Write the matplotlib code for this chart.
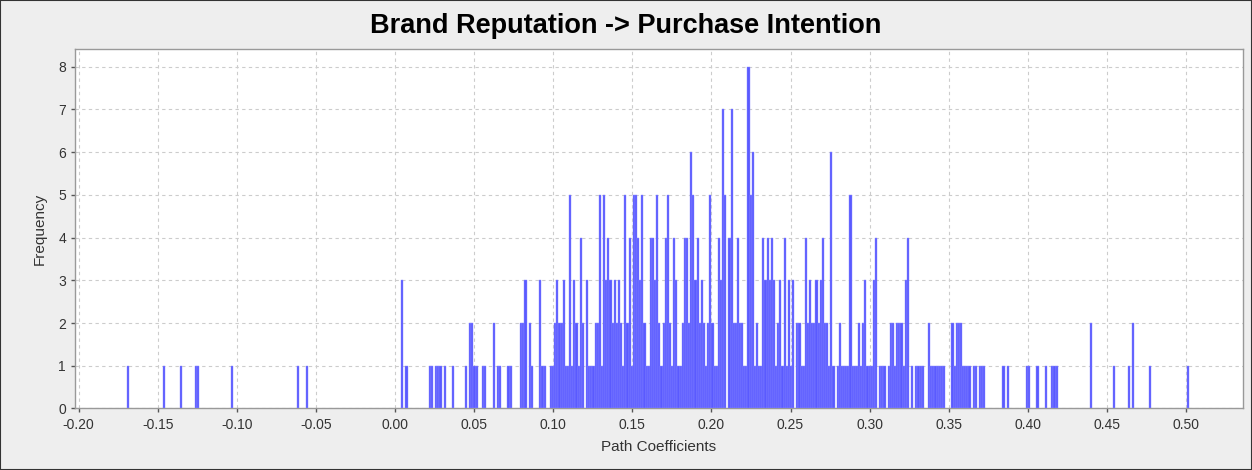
import numpy as np
import matplotlib
matplotlib.use("Agg")
import matplotlib.pyplot as plt
from matplotlib.ticker import FormatStrFormatter, MultipleLocator

# histogram: 500 bins between the smallest and largest bootstrap coefficient
x_min = -0.1693
x_max = 0.5021
n_bins = 500

# sparse tails (bin index, frequency)
left_bins = [0, 17, 25, 32, 33, 49, 80, 84, 129, 131, 142, 143, 145, 146, 147, 149, 153, 159]
left_freq = [1, 1, 1, 1, 1, 1, 1, 1, 3, 1, 1, 1, 1, 1, 1, 1, 1, 1]

right_bins = [412, 414, 423, 424, 428, 432, 435, 436, 437, 453, 464, 471, 473, 481, 499]
right_freq = [1, 1, 1, 1, 1, 1, 1, 1, 1, 2, 1, 1, 2, 1, 1]

# dense middle part, one value per bin starting at bin 160
dense_start = 160
dense_freq = [
    0, 2, 2, 1, 1, 0, 0, 1, 1, 0,   # 160
    0, 0, 2, 0, 1, 1, 0, 0, 0, 1,   # 170
    1, 0, 0, 0, 0, 2, 2, 3, 0, 2,   # 180
    1, 0, 0, 0, 3, 1, 1, 0, 0, 1,   # 190
    1, 2, 3, 2, 2, 3, 1, 1, 5, 1,   # 200
    3, 2, 1, 4, 2, 0, 3, 1, 1, 1,   # 210
    2, 2, 5, 1, 5, 3, 4, 3, 2, 3,   # 220
    2, 3, 2, 1, 5, 2, 4, 1, 5, 5,   # 230
    4, 3, 5, 2, 1, 1, 4, 4, 3, 5,   # 240
    2, 1, 2, 4, 5, 2, 1, 4, 3, 1,   # 250
    1, 2, 4, 4, 2, 6, 5, 3, 4, 2,   # 260
    3, 2, 1, 2, 5, 2, 1, 1, 4, 3,   # 270
    7, 5, 0, 4, 7, 2, 2, 4, 2, 2,   # 280
    1, 1, 8, 5, 6, 1, 2, 1, 1, 4,   # 290
    3, 4, 3, 4, 3, 1, 2, 3, 1, 4,   # 300
    1, 3, 1, 3, 0, 2, 2, 1, 1, 4,   # 310
    2, 3, 2, 2, 3, 2, 3, 4, 2, 2,   # 320
    1, 6, 1, 0, 1, 2, 1, 1, 1, 1,   # 330
    5, 1, 1, 1, 2, 1, 2, 3, 1, 1,   # 340
    1, 3, 4, 0, 1, 1, 1, 0, 1, 2,   # 350
    2, 1, 2, 2, 2, 1, 3, 4, 0, 1,   # 360
    0, 1, 1, 1, 1, 0, 0, 2, 1, 1,   # 370
    1, 1, 1, 1, 1, 0, 0, 0, 2, 1,   # 380
    2, 2, 2, 1, 1, 1, 1, 0, 1, 1,   # 390
    0, 1, 1, 1,                     # 400
]

counts = np.zeros(n_bins)
counts[left_bins] = left_freq
counts[dense_start:dense_start + len(dense_freq)] = dense_freq
counts[right_bins] = right_freq

edges = np.linspace(x_min, x_max, n_bins + 1)
centers = (edges[:-1] + edges[1:]) / 2
bw = edges[1] - edges[0]
nz = counts > 0

plt.rcParams['font.family'] = ['Liberation Sans', 'DejaVu Sans']

fig = plt.figure(figsize=(12.52, 4.70), dpi=100, facecolor='#eeeeee')
ax = fig.add_axes([0.0599, 0.1309, 0.9329, 0.7638])
ax.set_facecolor('white')

ax.bar(centers[nz], counts[nz], width=bw, color='#5a5aff',
       edgecolor='#8c8cff', linewidth=0.3, zorder=3)

ax.set_xlim(-0.2023, 0.536)
ax.set_ylim(0, 8.4)
ax.xaxis.set_major_locator(MultipleLocator(0.05))
ax.xaxis.set_major_formatter(FormatStrFormatter('%.2f'))
ax.yaxis.set_major_locator(MultipleLocator(1))

ax.grid(True, color='#cccccc', linestyle=(0, (3, 3)), linewidth=0.8, zorder=0)
for s in ax.spines.values():
    s.set_color('#999999')
    s.set_linewidth(1)
ax.tick_params(axis='both', colors='#555555', labelcolor='#333333',
               labelsize=10, length=3, width=1)

ax.set_xlabel('Path Coefficients', fontsize=11, color='#333333', labelpad=6)
ax.set_ylabel('Frequency', fontsize=11, color='#333333', labelpad=8)
fig.suptitle('Brand Reputation -> Purchase Intention', fontsize=19.5,
             fontweight='bold', y=0.972, va='top')

fig.patches.append(plt.Rectangle((0, 0), 1, 1, transform=fig.transFigure,
                                 fill=False, edgecolor='#333333', linewidth=1.5))

fig.savefig('out.png', dpi=100, facecolor=fig.get_facecolor())
